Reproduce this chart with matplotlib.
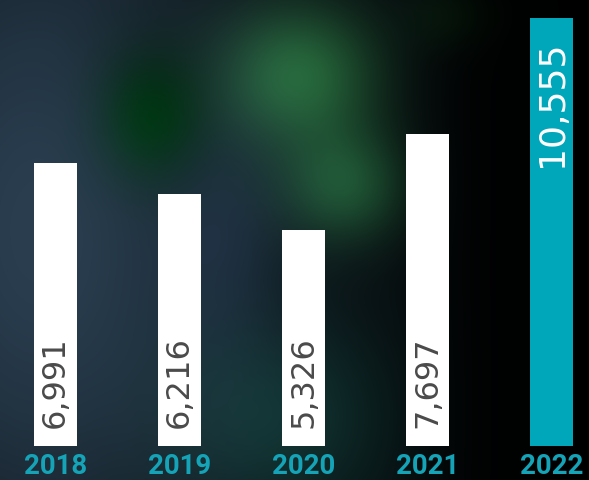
import numpy as np
import matplotlib
matplotlib.use('Agg')
import matplotlib.pyplot as plt

years = ['2018', '2019', '2020', '2021', '2022']
values = [6991, 6216, 5326, 7697, 10555]
value_labels = ['6,991', '6,216', '5,326', '7,697', '10,555']
bar_colors = ['#ffffff', '#ffffff', '#ffffff', '#ffffff', '#00a6b9']

W, H = 589, 480
fig = plt.figure(figsize=(W / 100, H / 100), dpi=100)

# ---- blurred dark photographic background ----
yy, xx = np.mgrid[0:H, 0:W].astype(float)
img = np.zeros((H, W, 3))
img[:] = np.array([6, 12, 14]) / 255.0


def blob(cx, cy, sx, sy, col):
    g = np.exp(-(((xx - cx) / sx) ** 2 + ((yy - cy) / sy) ** 2) / 2)
    return g[..., None] * np.array(col) / 255.0


img += blob(40, 230, 150, 260, (36, 50, 66))
img -= blob(150, 115, 38, 48, (30, 16, 46))
img += blob(150, 120, 32, 38, (0, 22, 6))
img += blob(300, 75, 55, 50, (26, 82, 34))
img += blob(345, 185, 45, 40, (20, 64, 30))
img += blob(470, 15, 35, 25, (6, 34, 8))
img += blob(280, 420, 80, 70, (5, 30, 24))
img += blob(230, 230, 40, 80, (8, 12, 20))
fade = 1 - 0.93 / (1 + np.exp(-(xx - 440) / 22))
img *= fade[..., None]
img = np.clip(img, 0, 1)

bg = fig.add_axes([0, 0, 1, 1])
bg.imshow(img, aspect='auto', interpolation='bilinear')
bg.axis('off')

# ---- bar chart ----
ax = fig.add_axes([0, 34 / H, 1, 446 / H])
ax.patch.set_alpha(0)
x = np.arange(len(years))
ax.bar(x, values, width=0.347, color=bar_colors, zorder=2)
ax.set_xlim(-0.447, 4.299)
ax.set_ylim(0, 10999)
for s in ax.spines.values():
    s.set_visible(False)
ax.set_yticks([])
ax.set_xticks(x)
ax.set_xticklabels(years, fontfamily='Roboto', fontweight='bold',
                   fontsize=19.9, color='#15a3b7')
ax.tick_params(axis='x', length=0, pad=5)

for i, (v, lab) in enumerate(zip(values, value_labels)):
    if i == len(values) - 1:
        ax.annotate(lab, xy=(i, v), xytext=(0, -22), textcoords='offset pixels',
                    rotation=90, ha='center', va='top', fontsize=26,
                    fontfamily='DejaVu Sans', color='white', zorder=3)
    else:
        ax.annotate(lab, xy=(i, 0), xytext=(0, 18), textcoords='offset pixels',
                    rotation=90, ha='center', va='bottom', fontsize=23,
                    fontfamily='DejaVu Sans', color='#4a4a4a', zorder=3)

fig.savefig('out.png', dpi=100)
